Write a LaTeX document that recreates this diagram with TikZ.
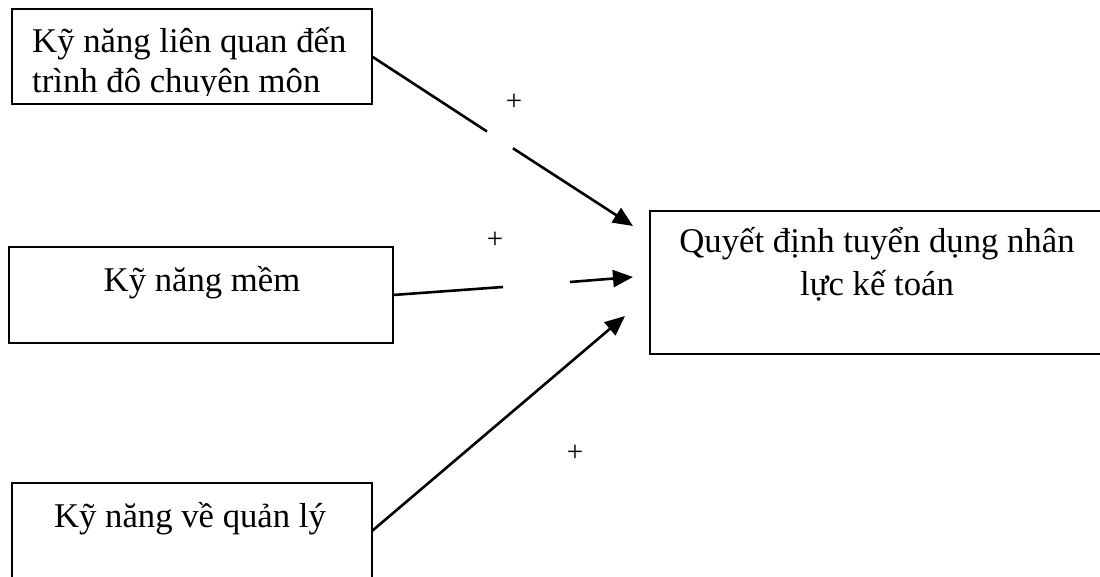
\documentclass[tikz,border=0pt]{standalone}
\usepackage{fontspec}
\setmainfont{Liberation Serif}
\usetikzlibrary{arrows.meta}

\begin{document}
\begin{tikzpicture}[x=1pt,y=-1pt,
  box/.style={draw, line width=2.6pt, inner sep=0pt, outer sep=0pt},
  label/.style={inner sep=0pt, font=\fontsize{34.7}{40}\selectfont},
  sign/.style={inner sep=0pt, font=\fontsize{29}{32}\selectfont},
  conn/.style={line width=2.6pt},
  arr/.style={line width=2.6pt, -{Triangle[length=20pt,width=17pt]}}
]
\useasboundingbox (0,0) rectangle (1100,577);
\clip (0,0) rectangle (1100,577);

% factor boxes on the left and the outcome box on the right
\node[box, minimum width=360pt, minimum height=95pt]  (top) at (192,56.5) {};
\node[box, minimum width=384pt, minimum height=96pt]  (mid) at (201,295) {};
\node[box, minimum width=360pt, minimum height=96pt]  (bot) at (192,531) {};
\node[box, minimum width=454pt, minimum height=143pt] (dec) at (877,282.5) {};

% box texts (a multi-line node sits on the baseline of its last line)
\begin{scope}
  \clip (12,9) rectangle (372,96);
  \node[label, anchor=base west, align=left] (toptext) at (32,93)
    {Kỹ năng liên quan đến\\trình đô chuyên môn};
\end{scope}
\node[label, anchor=base] (midtext) at (202,291) {Kỹ năng mềm};
\node[label, anchor=base] (bottext) at (190,527) {Kỹ năng về quản lý};
\node[label, anchor=base, align=center,
      font=\fontsize{34.7}{43}\selectfont] (dectext) at (877,295)
  {Quyết định tuyển dụng nhân\\lực kế toán};

% break points and tips of the arrows
\coordinate (g1a) at (487,131.5);
\coordinate (g1b) at (513,148.3);
\coordinate (t1)  at (633,226);
\coordinate (g2a) at (503,287);
\coordinate (g2b) at (570,282);
\coordinate (t2)  at (633,277);
\coordinate (t3)  at (625,316);

% connectors
\draw[conn] (top.east) -- (g1a);
\draw[arr]  (g1b) -- (t1);
\draw[conn] (mid.east) -- (g2a);
\draw[arr]  (g2b) -- (t2);
\draw[arr]  (bot.east) -- (t3);

% signs of the effects
\node[sign] (s1) at (514,102) {+};
\node[sign] (s2) at (495,240) {+};
\node[sign] (s3) at (575,453) {+};
\end{tikzpicture}
\end{document}
